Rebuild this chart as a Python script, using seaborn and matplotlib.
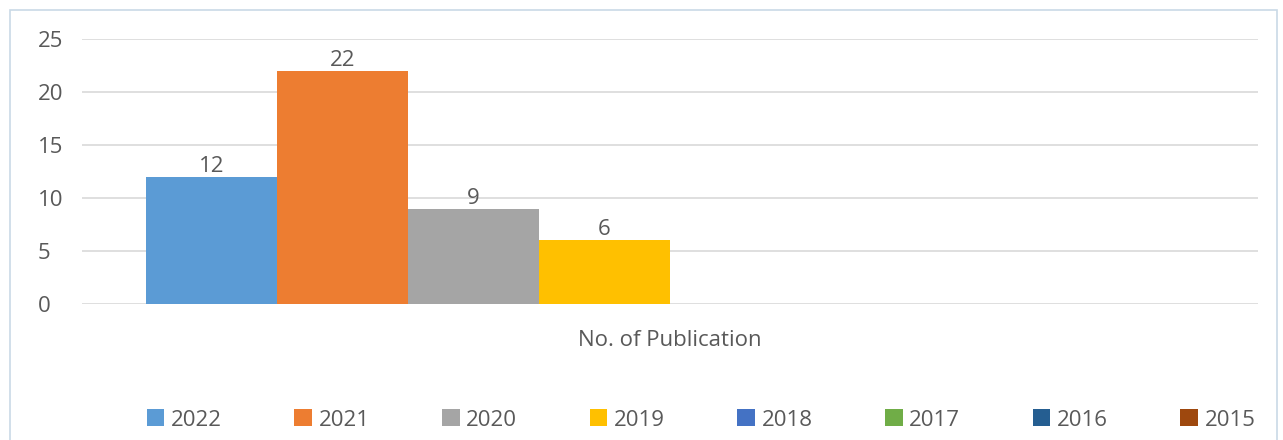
import matplotlib
matplotlib.use("Agg")
import matplotlib.pyplot as plt
import seaborn as sns
import pandas as pd
from matplotlib.patches import Rectangle, Patch

categories = ["No. of Publication"]
years = ["2022", "2021", "2020", "2019", "2018", "2017", "2016", "2015"]
values = [12, 22, 9, 6, 0, 0, 0, 0]
colors = ["#5B9BD5", "#ED7D31", "#A5A5A5", "#FFC000", "#4472C4", "#70AD47", "#255E91", "#9E480E"]
yticks = [0, 5, 10, 15, 20, 25]

sns.set_theme(style="white")
plt.rcParams["font.family"] = ["Open Sans", "DejaVu Sans"]
text_color = "#595959"
fs = 16

df = pd.DataFrame({"category": categories * len(years), "year": years, "value": values})

W, H = 1283, 440
fig = plt.figure(figsize=(W / 100, H / 100), dpi=100)
ax = fig.add_axes([82 / W, 1 - 304 / H, (1258 - 82) / W, (304 - 39) / H])

sns.barplot(data=df, x="category", y="value", hue="year", hue_order=years,
            palette=colors, width=0.891, dodge=True, ax=ax, legend=False,
            saturation=1, edgecolor="none", linewidth=0)

ax.set_xlim(-0.5, 0.5)
ax.set_ylim(0, 25)
ax.set_yticks(yticks)
ax.grid(axis="y", color="#D9D9D9", linewidth=1.2)
ax.set_axisbelow(True)
for s in ax.spines.values():
    s.set_visible(False)
ax.set_xlabel("")
ax.set_ylabel("")
ax.tick_params(axis="y", length=0, pad=32, labelsize=fs, labelcolor=text_color)
ax.tick_params(axis="x", length=0, pad=19, labelsize=fs, labelcolor=text_color)
for lbl in ax.get_yticklabels():
    lbl.set_horizontalalignment("left")

for cont in ax.containers:
    labels = [f"{int(v)}" if v > 0 else "" for v in cont.datavalues]
    ax.bar_label(cont, labels=labels, padding=0, fontsize=fs, color=text_color)

handles = [Patch(facecolor=c, edgecolor="none") for c in colors]
fig.legend(handles, years, loc="center", bbox_to_anchor=(701 / W, 1 - 420 / H),
           ncol=8, frameon=False, fontsize=fs, labelcolor=text_color,
           handlelength=0.8, handleheight=0.8, handletextpad=0.3, columnspacing=3.25)

fig.patches.append(Rectangle((10 / W, -0.1), (1277 - 10) / W, 1 - 10 / H + 0.1,
                             transform=fig.transFigure, fill=False,
                             edgecolor="#C9D9E6", linewidth=1.2))

fig.savefig("out.png", dpi=100)
